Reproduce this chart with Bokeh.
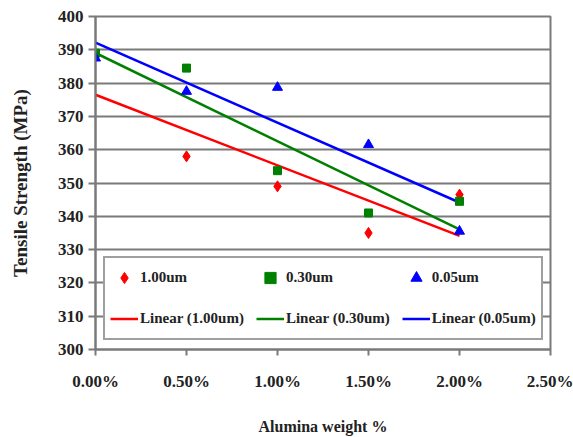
import numpy as np
from bokeh.plotting import figure
from bokeh.models import Legend, LegendItem, FixedTicker, PrintfTickFormatter, Range1d
from bokeh.embed import file_html
from bokeh.resources import INLINE

# ---- data ----
alumina_pct = [0.0, 0.5, 1.0, 1.5, 2.0]
s_100 = [388.0, 358.0, 349.0, 335.0, 346.5]   # 1.00um
s_030 = [389.0, 384.5, 353.7, 341.0, 344.5]   # 0.30um
s_005 = [387.5, 377.5, 378.7, 361.5, 335.5]   # 0.05um
series_names = ["1.00um", "0.30um", "0.05um"]
x_ticks = [0.0, 0.5, 1.0, 1.5, 2.0, 2.5]
y_ticks = [300, 310, 320, 330, 340, 350, 360, 370, 380, 390, 400]

FONT = "Liberation Serif"
GRID = "#7a7a7a"

p = figure(width=573, height=437, output_backend="svg", toolbar_location=None,
           x_range=Range1d(0, 2.5), y_range=Range1d(300, 400),
           min_border_left=95, min_border_right=23, min_border_top=16, min_border_bottom=88)
p.background_fill_color = "white"
p.border_fill_color = "white"
p.outline_line_color = GRID
p.outline_line_width = 2

p.xgrid.visible = False
p.ygrid.grid_line_color = GRID
p.ygrid.grid_line_width = 2

p.xaxis.ticker = FixedTicker(ticks=x_ticks)
p.yaxis.ticker = FixedTicker(ticks=y_ticks)
p.xaxis.formatter = PrintfTickFormatter(format="%.2f%%")
for ax in (p.xaxis, p.yaxis):
    ax.axis_line_color = GRID
    ax.axis_line_width = 2
    ax.major_tick_line_color = GRID
    ax.major_tick_line_width = 2
    ax.minor_tick_line_color = None
    ax.major_tick_in = 0
    ax.major_label_text_font = FONT
    ax.major_label_text_font_style = "bold"
    ax.major_label_text_font_size = "17px"
    ax.major_label_text_color = "#222222"
    ax.axis_label_text_font = FONT
    ax.axis_label_text_font_style = "bold"
    ax.axis_label_text_color = "#222222"
p.xaxis.axis_label_text_font_size = "16px"
p.yaxis.axis_label_text_font_size = "19px"
p.xaxis.major_tick_out = 6
p.yaxis.major_tick_out = 7
p.xaxis.major_label_standoff = 16
p.yaxis.major_label_standoff = 5
p.xaxis.axis_label = "Alumina weight %"
p.yaxis.axis_label = "Tensile Strength (MPa)"
p.xaxis.axis_label_standoff = 24
p.yaxis.axis_label_standoff = 24

colors = ["#ff0000", "#008000", "#0000ff"]
markers = ["diamond", "square", "triangle"]
sizes = [11, 8, 10]
data = [s_100, s_030, s_005]

scat_r = []
line_r = []
xs = np.array(alumina_pct)
for vals, c, m, s in zip(data, colors, markers, sizes):
    k, b = np.polyfit(xs, np.array(vals), 1)
    lx = [xs.min(), xs.max()]
    ly = [k * lx[0] + b, k * lx[1] + b]
    lr = p.line(lx, ly, line_color=c, line_width=2.5)
    line_r.append(lr)
for vals, c, m, s in zip(data, colors, markers, sizes):
    sr = p.scatter(alumina_pct, vals, marker=m, size=s, fill_color=c, line_color=c)
    scat_r.append(sr)

items = [LegendItem(label=n, renderers=[r]) for n, r in zip(series_names, scat_r)]
items += [LegendItem(label=f"Linear ({n})", renderers=[r]) for n, r in zip(series_names, line_r)]
legend = Legend(items=items, orientation="horizontal", ncols=3, location=(8, 9),
                glyph_width=28, glyph_height=29, label_height=29, label_standoff=2,
                spacing=12, padding=5, margin=0,
                label_text_font=FONT, label_text_font_style="bold", label_text_font_size="15px",
                label_text_color="#222222",
                border_line_color="#404040", border_line_width=2,
                background_fill_color="white", background_fill_alpha=1)
p.add_layout(legend, "center")

open("out.html", "w").write(file_html(p, INLINE))
